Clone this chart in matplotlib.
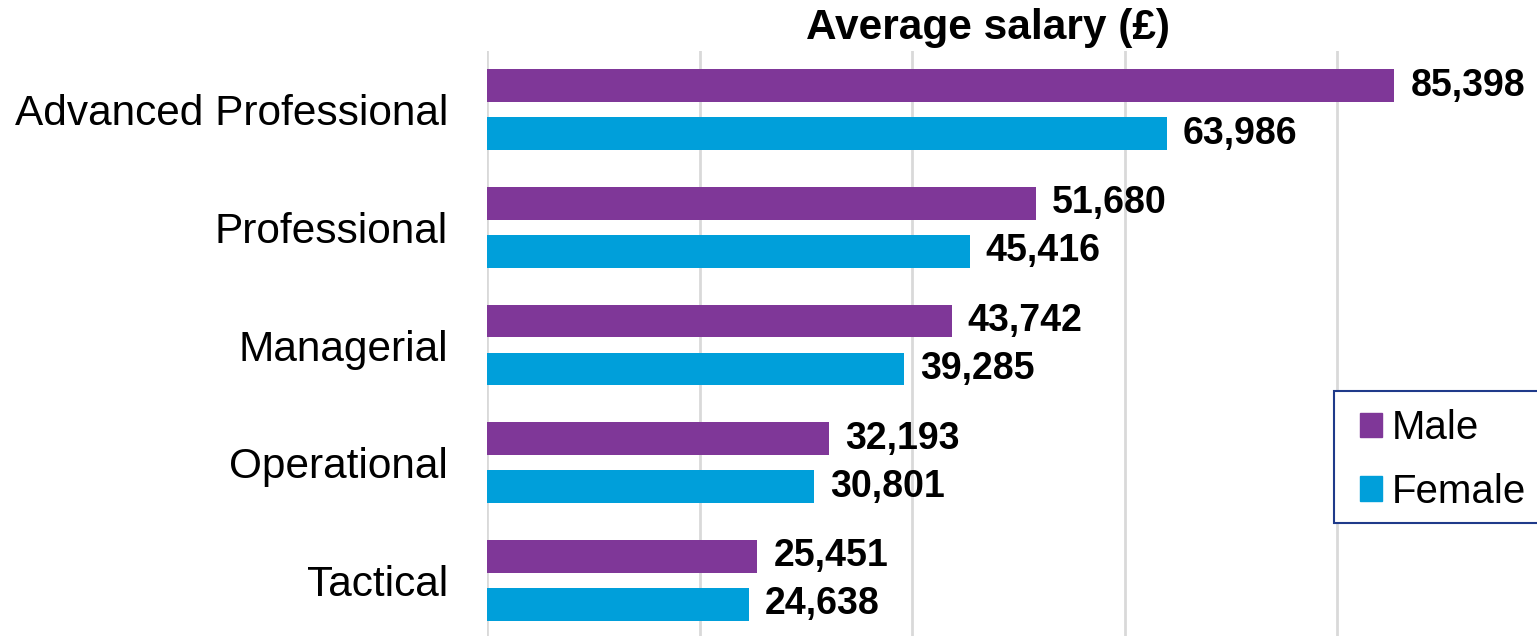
import numpy as np
import matplotlib
matplotlib.use('Agg')
import matplotlib.pyplot as plt
from matplotlib.patches import Patch, Rectangle

plt.rcParams['font.family'] = ['Liberation Sans', 'DejaVu Sans']

# Donnees
categories = ['Advanced Professional', 'Professional', 'Managerial',
              'Operational', 'Tactical']
male = [85398, 51680, 43742, 32193, 25451]
female = [63986, 45416, 39285, 30801, 24638]
series_names = ['Male', 'Female']

purple = '#7F3798'
blue = '#009FDA'

W, H = 1537, 636
fig = plt.figure(figsize=(W / 100, H / 100), dpi=100)
ax = fig.add_axes([487 / W, -3 / H, 1062.5 / W, 588 / H])

y = np.arange(len(categories))
h = 0.28
off = 0.204
bm = ax.barh(y - off, male, height=h, color=purple, zorder=3)
bf = ax.barh(y + off, female, height=h, color=blue, zorder=3)

# Etiquettes de valeurs
for bars in (bm, bf):
    for b in bars:
        v = b.get_width()
        ax.annotate(f'{v:,.0f}', (v, b.get_y() + b.get_height() / 2),
                    xytext=(16, 0), textcoords='offset pixels',
                    va='center', ha='left', fontsize=27, fontweight='bold')

ax.set_xlim(0, 100000)
ax.set_ylim(len(categories) - 0.5, -0.5)
ax.set_xticks([0, 20000, 40000, 60000, 80000, 100000])
ax.xaxis.grid(True, color='#D9D9D9', linewidth=2)
ax.set_axisbelow(True)
ax.tick_params(axis='x', length=0, labelbottom=False)
ax.tick_params(axis='y', length=0, pad=28, labelsize=30.5)
ax.set_yticks(y)
ax.set_yticklabels(categories)
for s in ax.spines.values():
    s.set_visible(False)

fig.text(988 / W, 1 - 28 / H, 'Average salary (£)', ha='center', va='center',
         fontsize=30.5, fontweight='bold')

# Cadre de la legende (coupe au bord droit comme l'original)
fig.patches.append(Rectangle((1334 / W, 1 - 523 / H), 220 / W, 132 / H,
                             transform=fig.transFigure, facecolor='white',
                             edgecolor='#1F3A8A', linewidth=1.5, zorder=5))
handles = [Patch(color=purple), Patch(color=blue)]
leg = fig.legend(handles, series_names, loc='upper left',
                 bbox_to_anchor=(1360 / W, 1 - 409 / H), fontsize=29,
                 handlelength=0.55, handleheight=0.55, handletextpad=0.25,
                 borderpad=0, labelspacing=0.64, borderaxespad=0,
                 frameon=False)
leg.set_zorder(6)

fig.savefig('out.png', dpi=100)
